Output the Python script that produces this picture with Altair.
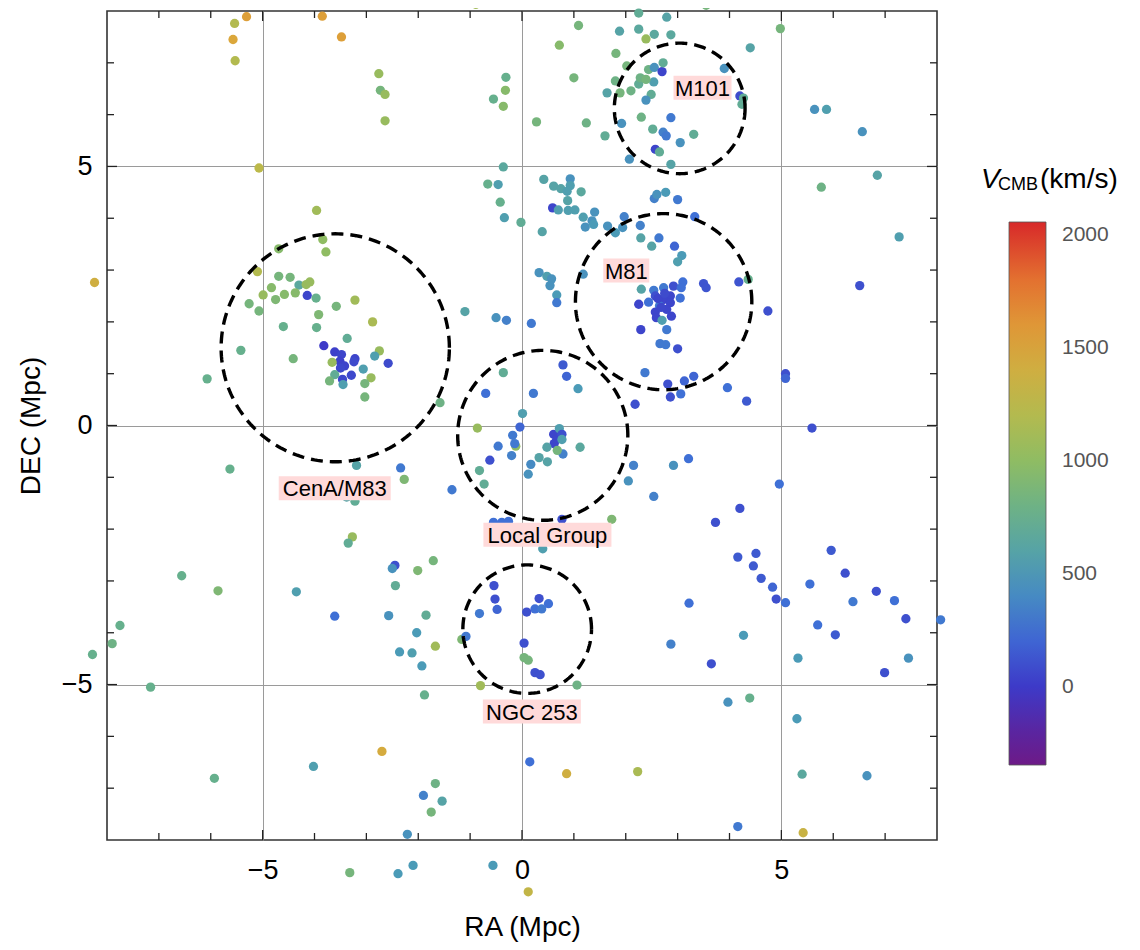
import altair as alt
import numpy as np
import pandas as pd

# ---------------- data ----------------
ra = [-0.89, -5.54, -5.31, -5.57, -5.53, -3.85, -3.48, -2.76, -2.73, -2.64, -2.64, -0.31, -0.32, -0.55, -0.36,
      -5.07, -0.36, -0.66, -0.46, -0.42, -0.34, -0.02, -3.96, -3.84, -3.78, -4.69, -5.10, -8.24, -4.69, -4.47,
      -4.30, -4.83, -4.99, -4.58, -4.37, -4.16, -4.09, -4.14, -3.97, -4.75, -5.26, -5.07, -3.22, -3.58, -3.92,
      -4.60, -3.96, -2.88, -3.37, -3.82, -5.42, -4.41, -3.61, -3.48, -3.51, -3.22, -3.24, -3.42, -3.66, -2.75,
      -2.84, -2.58, -3.06, -3.50, -3.29, -3.61, -3.46, -3.45, -3.71, -2.91, -3.03, -3.03, -6.07, -1.58, -1.10,
      -0.50, -0.30, -0.36, -0.70,
      0.44, 3.55, 2.25, 2.79, 1.09, 1.88, 2.25, 2.55, 2.87, 2.39, 0.72, 4.98, 4.40, 1.81, 1.00, 0.28, 1.24, 1.60,
      1.64, 1.89, 1.80, 2.02, 2.10, 2.25, 2.28, 2.44, 2.55, 2.70, 2.72, 2.54, 2.49, 2.39, 2.39, 2.30, 1.92, 2.87,
      2.52, 2.72, 2.78, 3.31, 3.05, 2.57, 2.65, 2.87, 2.07, 3.90, 4.20, 4.27, 4.24, 5.64, 5.87, 6.56, 6.85, 5.77,
      7.27, 6.51, 4.74, 5.08, 5.08, 3.96, 4.33,
      0.42, 0.61, 0.75, 0.93, 0.93, 0.87, 1.14, 0.88, 0.59, 0.70, 0.89, 1.02, 1.40, 1.18, 1.35, 1.22, 1.38, 1.65,
      1.80, 1.97, 1.94, 2.28, 2.29, 0.39, 2.55, 2.60, 2.77, 3.00, 3.33, 2.64, 2.50, 2.94, 3.08, 3.00, 0.33, 0.48,
      0.57, 0.54, 0.67, 0.67, 1.18, 0.18, 0.79, 0.86, 0.22, 1.08,
      2.30, 2.54, 2.73, 2.92, 3.10, 3.07, 3.50, 3.55, 4.18, 4.36, 2.25, 2.44, 2.57, 2.73, 2.86, 2.86, 3.05, 2.65,
      2.79, 2.57, 2.59, 2.70, 2.88, 2.29, 2.79, 2.66, 2.77, 3.00, 2.37, 2.81, 3.13, 3.31, 2.86, 3.06, 2.18, 2.62,
      2.75, 2.68,
      0.01, -0.04, -0.86, -0.18, -0.12, -0.14, -0.46, -0.62, -0.20, -0.82, -0.73, -1.35, 0.61, 0.67, 0.72, 0.77,
      0.62, 0.77, 0.79, 0.68, 0.48, 1.12, 0.33, 0.49, 0.17, 0.12, 2.15, 2.05, 1.73, 0.77, -0.55, -0.39, -0.26, 0.40,
      -3.19, -2.34, -2.27, -5.63, -3.38, -3.22, -3.27, -3.35, -1.71, -2.01, -2.45, -2.50, -2.44, -6.56, -5.86,
      -4.35, -3.61, -2.57, -1.85, -2.03, -1.67, -1.16, -1.08, -2.36, -2.12, -1.93, -7.75, -7.90, -8.28, -7.16,
      -1.88, -0.80, -2.70, -4.02, -5.93, -1.67, -1.90, -1.54, -1.75, -2.21,
      -0.54, -0.52, -0.48, -0.82, 0.33, 0.51, 0.25, 0.38, 0.09, 0.04, 0.04, 0.12, 0.25, 0.35, 1.06,
      -3.32, -2.39, -2.10, -0.56, 0.12,
      5.59, 3.21, 2.92, 2.54, 4.96, 4.20, 3.73, 5.96, 4.16, 4.51, 4.46, 4.61, 6.23, 4.83, 5.55, 4.90, 5.08, 6.83,
      6.38, 7.18, 7.40, 5.70, 6.04, 3.22, 4.27, 2.87, 3.65, 5.32, 7.45, 6.99, 3.97, 4.39, 5.30, 0.15, 0.86, 2.23,
      5.40, 6.65, 4.16, 5.42, 8.07]

dec = [8.13, 7.76, 7.89, 7.45, 7.04, 7.90, 7.50, 6.79, 6.47, 6.39, 5.88, 6.72, 6.47, 6.30, 6.16,
       4.97, 4.99, 4.66, 4.65, 4.31, 4.01, 3.92, 4.15, 3.59, 3.35, 3.41, 2.97, 2.76, 2.88, 2.86,
       2.71, 2.66, 2.52, 2.53, 2.56, 2.72, 2.77, 2.51, 2.46, 2.43, 2.35, 2.21, 2.42, 2.30, 2.14,
       1.91, 1.89, 2.00, 1.68, 1.54, 1.45, 1.29, 1.42, 1.37, 1.24, 1.29, 1.23, 1.15, 1.22, 1.44,
       1.34, 1.20, 1.09, 1.11, 0.97, 0.98, 0.89, 0.79, 0.86, 0.92, 0.81, 0.55, 0.90, 0.44, 2.20,
       2.08, 2.03, 1.02, 0.62,
       8.19, 8.11, 7.96, 7.88, 7.72, 7.61, 7.65, 7.55, 7.54, 7.46, 7.34, 7.66, 7.29, 7.18, 6.71, 5.86, 5.84, 5.59,
       6.42, 6.42, 6.65, 6.94, 6.46, 6.59, 6.71, 6.87, 6.91, 6.83, 7.00, 6.63, 6.39, 6.28, 6.68, 5.95, 5.83, 5.94,
       5.72, 5.66, 5.59, 5.62, 5.46, 5.33, 5.28, 5.04, 5.14, 6.89, 6.36, 6.32, 6.20, 6.10, 6.10, 5.67, 4.83, 4.60,
       3.64, 2.70, 2.21, 1.00, 0.91, 0.73, 0.47,
       4.75, 4.62, 4.57, 4.76, 4.63, 4.52, 4.51, 4.34, 4.20, 4.16, 4.15, 4.16, 4.12, 4.02, 3.95, 3.83, 3.88, 3.85,
       3.72, 4.03, 3.82, 3.86, 3.62, 3.74, 4.38, 4.46, 4.50, 4.36, 4.03, 3.62, 3.46, 3.46, 3.28, 3.16, 2.95, 2.88,
       2.83, 2.70, 2.52, 2.37, 2.92, 1.97, 1.17, 0.95, 0.62, 0.71,
       2.63, 2.61, 2.66, 2.69, 2.77, 2.66, 2.74, 2.66, 2.77, 2.82, 2.34, 2.38, 2.50, 2.43, 2.50, 2.37, 2.46, 2.31,
       2.24, 2.19, 2.08, 2.03, 2.11, 1.85, 1.85, 1.58, 1.56, 1.48, 1.02, 0.80, 0.86, 0.95, 0.55, 0.61, 0.41, 2.45,
       2.55, 2.28,
       0.23, -0.03, -0.05, -0.19, -0.40, -0.35, -0.40, -0.67, -0.58, -0.87, -1.13, -1.24, -0.17, -0.27, -0.06, -0.17,
       -0.35, -0.27, -0.55, -0.48, -0.42, -0.42, -0.62, -0.70, -0.75, -0.94, -0.77, -1.07, -1.81, -1.81, -1.87, -1.87,
       -1.85, -2.38,
       -0.77, -0.82, -1.04, -0.84, -1.38, -1.46, -2.15, -2.27, -2.61, -2.80, -2.70, -2.76, -3.09, -2.90, -3.19,
       -3.21, -3.68, -3.67, -3.66, -4.00, -4.26, -4.13, -4.07, -4.37, -4.39, -4.64, -3.86, -4.21, -4.42, -5.05,
       -5.20, -5.02, -6.29, -6.58, -6.81, -6.91, -7.14, -7.25, -7.46, -7.89,
       -3.09, -3.35, -3.55, -3.63, -3.34, -3.44, -3.54, -3.54, -3.60, -4.20, -4.48, -4.53, -4.77, -4.81, -5.01,
       -8.63, -8.65, -8.49, -8.49, -9.00,
       -0.05, -0.64, -0.77, -1.37, -1.13, -1.60, -1.87, -2.41, -2.54, -2.47, -2.71, -2.95, -2.85, -3.12, -3.06,
       -3.35, -3.42, -3.20, -3.40, -3.38, -3.73, -3.85, -4.04, -3.43, -4.05, -4.22, -4.60, -4.49, -4.49, -4.77,
       -5.34, -5.26, -5.66, -6.49, -6.72, -6.68, -6.73, -6.76, -7.74, -7.86, -3.75]

vcmb = [1100, 1200, 1550, 1500, 1200, 1550, 1550, 1050, 850, 1050, 1050, 750, 950, 750, 950,
        1250, 650, 750, 550, 750, 550, 700, 1100, 1000, 1000, 950, 1200, 1400, 850, 850,
        650, 950, 1050, 950, 950, 1050, 1050, 50, 750, 900, 850, 850, 1100, 850, 900,
        750, 750, 1150, 700, 0, 750, 850, 30, 50, 30, 50, 80, 40, 1050, 1050,
        550, 80, 550, 60, 70, 700, 60, 550, 850, 1050, 850, 850, 750, 800, 600,
        450, 350, 700, 250,
        1100, 850, 700, 600, 850, 600, 650, 650, 650, 1050, 950, 850, 600, 850, 850, 850, 800, 700,
        600, 850, 800, 850, 800, 700, 800, 800, 450, 50, 700, 550, 700, 450, 850, 800, 450, 300,
        700, 350, 300, 700, 450, 50, 700, 600, 450, 450, 80, 700, 700, 450, 550, 450, 600, 800,
        550, 100, 100, 100, 200, 250, 150,
        600, 600, 600, 450, 550, 550, 650, 600, 50, 550, 550, 550, 450, 550, 450, 450, 500, 450,
        500, 350, 450, 350, 600, 600, 350, 450, 500, 300, 250, 300, 600, 200, 500, 550, 450, 550,
        450, 450, 500, 300, 450, 300, 150, 200, 300, 500,
        600, 300, 300, 100, 250, 250, 120, 120, 120, 750, 50, 250, 100, 50, 50, 50, 250, 300,
        50, 50, 50, 550, 50, 50, 300, 300, 300, 100, 300, 100, 200, 200, 100, 250, 100, 50,
        80, 60,
        550, 200, 1050, 300, 1000, 300, 300, 100, 350, 700, 700, 300, 50, 50, 550, 100,
        50, 550, 350, 850, 600, 650, 600, 600, 400, 450, 350, 450, 900, 100, 250, 250,
        250, 550,
        600, 300, 900, 750, 600, 700, 1050, 700, 850, 900, 100, 450, 700, 750, 900,
        550, 250, 450, 700, 500, 1100, 900, 300, 500, 550, 500, 750, 800, 750, 750,
        750, 1100, 1450, 550, 750, 800, 350, 600, 850, 450,
        100, 100, 200, 300, 100, 250, 250, 300, 100, 100, 850, 850, 100, 100, 800,
        850, 500, 500, 500, 1300,
        100, 250, 450, 350, 250, 100, 100, 150, 150, 150, 150, 150, 100, 200, 250,
        100, 250, 100, 300, 250, 100, 250, 150, 250, 500, 350, 100, 500, 450, 100,
        450, 750, 500, 250, 1400, 1150, 650, 450, 300, 1350, 300]

# group circles (centre RA, centre DEC, radius) and their labels
group_names = ["M101", "M81", "CenA/M83", "Local Group", "NGC 253"]
group_ra = [3.04, 2.73, -3.60, 0.40, 0.10]
group_dec = [6.12, 2.39, 1.50, -0.19, -3.93]
group_r = [1.26, 1.70, 2.20, 1.64, 1.24]
label_ra = [3.48, 2.01, -3.61, 0.49, 0.19]
label_dec = [6.52, 2.99, -1.21, -2.11, -5.52]

# axis tick values
minor_ticks = [-7, -6, -4, -3, -2, -1, 1, 2, 3, 4, 6, 7]
major_ticks = [-5, 0, 5]
cbar_labels = [0, 500, 1000, 1500, 2000]

# ---------------- styling ----------------
W, H = 830, 829
PX = W / 16.0  # pixels per Mpc
FONT = "Liberation Sans"
label_box_px = {"M101": 58, "M81": 46, "CenA/M83": 112, "Local Group": 128, "NGC 253": 98}
box_h = 24 / PX

pts = pd.DataFrame({"ra": ra, "dec": dec, "v": vcmb})

circ_rows = []
theta = np.linspace(0, 2 * np.pi, 241)
for n, cx, cy, r in zip(group_names, group_ra, group_dec, group_r):
    for i, t in enumerate(theta):
        circ_rows.append({"name": n, "i": i, "ra": cx + r * np.cos(t), "dec": cy + r * np.sin(t)})
circ = pd.DataFrame(circ_rows)

lab = pd.DataFrame({"name": group_names, "ra": label_ra, "dec": label_dec})
lab["hw"] = [label_box_px[n] / 2 / PX for n in group_names]
lab["x1"] = lab["ra"] - lab["hw"]
lab["x2"] = lab["ra"] + lab["hw"]
lab["y1"] = lab["dec"] - box_h / 2
lab["y2"] = lab["dec"] + box_h / 2

xs = alt.Scale(domain=[-8, 8], nice=False, zero=False)
ys = alt.Scale(domain=[-8, 8], nice=False, zero=False)
xaxis = alt.Axis(values=major_ticks, grid=True, gridColor="#9a9a9a", gridWidth=1, domain=False, ticks=False,
                 labelFontSize=27, labelFont=FONT, labelColor="#000", labelPadding=17, title="RA (Mpc)",
                 titleFontSize=28, titleFont=FONT, titleFontWeight="normal", titleColor="#000", titlePadding=30)
yaxis = alt.Axis(values=major_ticks, grid=True, gridColor="#9a9a9a", gridWidth=1, domain=False, ticks=False,
                 labelFontSize=27, labelFont=FONT, labelColor="#000", labelPadding=15, title="DEC (Mpc)",
                 titleFontSize=28, titleFont=FONT, titleFontWeight="normal", titleColor="#000", titlePadding=16)


def X(field="ra"):
    return alt.X(f"{field}:Q", scale=xs, axis=xaxis, title="RA (Mpc)")


def Y(field="dec"):
    return alt.Y(f"{field}:Q", scale=ys, axis=yaxis, title="DEC (Mpc)")


cdomain = [-347, -150, 0, 250, 500, 750, 1000, 1250, 1500, 1750, 2056]
crange = ["#6d1a87", "#5329a8", "#3d3ac8", "#3f70d6", "#4b9bb7", "#66b08d", "#8fbc63", "#bcb94a",
          "#dba73b", "#e57f31", "#d8292a"]
cscale = alt.Scale(domain=cdomain, range=crange, interpolate="rgb")
legend = alt.Legend(orient="none", legendX=902, legendY=211, direction="vertical", gradientLength=543,
                    gradientThickness=37, values=cbar_labels, title=None, labelFontSize=21, labelFont=FONT,
                    labelColor="#555", labelOffset=16, gradientStrokeColor="#555", gradientStrokeWidth=0.8,
                    format="d")

points = alt.Chart(pts).mark_circle(size=86, opacity=1).encode(
    x=X(), y=Y(), color=alt.Color("v:Q", scale=cscale, legend=legend)
)

circles = alt.Chart(circ).mark_line(color="black", strokeWidth=3.4, strokeDash=[12, 7]).encode(
    x=X(), y=Y(), detail="name:N", order="i:Q"
)

boxes = alt.Chart(lab).mark_rect(color="#ffdada").encode(
    x=X("x1"), x2="x2:Q", y=Y("y1"), y2="y2:Q"
)
texts = alt.Chart(lab).mark_text(fontSize=22, font=FONT, color="black", baseline="middle", dy=1).encode(
    x=X(), y=Y(), text="name:N"
)

tick_layers = []
for vals, L in [(minor_ticks, 7), (major_ticks, 10)]:
    dv = pd.DataFrame({"ra": vals})
    dh = pd.DataFrame({"dec": vals})
    tick_layers.append(alt.Chart(dv).mark_rule(color="#222", strokeWidth=1.3).encode(
        x=X(), y=alt.value(H), y2=alt.value(H - L)))
    tick_layers.append(alt.Chart(dv).mark_rule(color="#222", strokeWidth=1.3).encode(
        x=X(), y=alt.value(0), y2=alt.value(L)))
    tick_layers.append(alt.Chart(dh).mark_rule(color="#222", strokeWidth=1.3).encode(
        y=Y(), x=alt.value(0), x2=alt.value(L)))
    tick_layers.append(alt.Chart(dh).mark_rule(color="#222", strokeWidth=1.3).encode(
        y=Y(), x=alt.value(W), x2=alt.value(W - L)))

one = pd.DataFrame({"a": [0]})
t_v = alt.Chart(one).mark_text(text="V", fontSize=28, font=FONT, fontStyle="italic", align="left",
                               baseline="alphabetic").encode(x=alt.value(874), y=alt.value(177))
t_cmb = alt.Chart(one).mark_text(text="CMB", fontSize=18, font=FONT, align="left",
                                 baseline="alphabetic").encode(x=alt.value(891), y=alt.value(179))
t_unit = alt.Chart(one).mark_text(text="(km/s)", fontSize=28, font=FONT, align="left",
                                  baseline="alphabetic").encode(x=alt.value(933), y=alt.value(177))

chart = alt.layer(points, *tick_layers, circles, boxes, texts, t_v, t_cmb, t_unit).properties(
    width=W, height=H,
    padding={"left": 99, "top": 3, "right": 195, "bottom": 110},
    autosize=alt.AutoSizeParams(type="none"),
    background="white",
).configure_view(stroke="#333", strokeWidth=1.6)

chart.save("out.html", embed_options={"renderer": "svg", "actions": False})
